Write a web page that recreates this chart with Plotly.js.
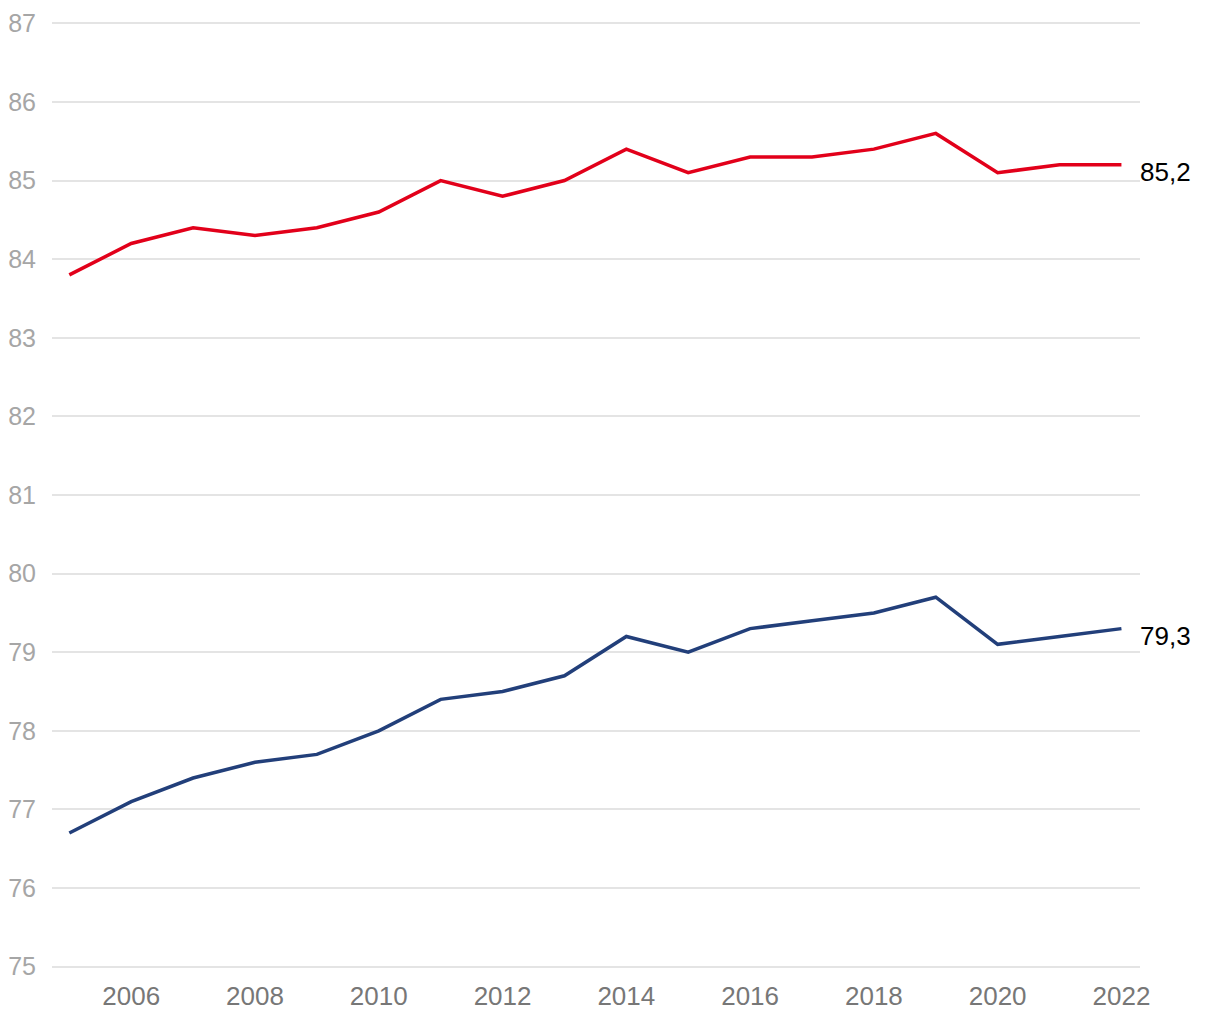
<!DOCTYPE html>
<html>
<head>
<meta charset="utf-8">
<script src="https://cdn.plot.ly/plotly-3.0.1.min.js"></script>
<style>html,body{margin:0;padding:0;background:#fff;}#chart{width:1220px;height:1020px;}</style>
</head>
<body>
<div id="chart"></div>
<script>
const years = [2005,2006,2007,2008,2009,2010,2011,2012,2013,2014,2015,2016,2017,2018,2019,2020,2021,2022];
const seriesRed = [83.8,84.2,84.4,84.3,84.4,84.6,85.0,84.8,85.0,85.4,85.1,85.3,85.3,85.4,85.6,85.1,85.2,85.2];
const seriesBlue = [76.7,77.1,77.4,77.6,77.7,78.0,78.4,78.5,78.7,79.2,79.0,79.3,79.4,79.5,79.7,79.1,79.2,79.3];
const endLabelRed = "85,2";
const endLabelBlue = "79,3";
const xTicks = [2006,2008,2010,2012,2014,2016,2018,2020,2022];
const yTicks = [75,76,77,78,79,80,81,82,83,84,85,86,87];

const traces = [
  {x: years, y: seriesRed, type: 'scatter', mode: 'lines', line: {color: '#e2001a', width: 3.5}, hoverinfo: 'skip'},
  {x: years, y: seriesBlue, type: 'scatter', mode: 'lines', line: {color: '#223f7a', width: 3.5}, hoverinfo: 'skip'}
];
const layout = {
  width: 1220, height: 1020,
  margin: {l: 52, r: 80, t: 21, b: 51},
  paper_bgcolor: '#fff', plot_bgcolor: '#fff',
  showlegend: false,
  font: {family: 'Liberation Sans, Arial, sans-serif'},
  xaxis: {
    range: [2004.72, 2022.3],
    tickvals: xTicks, ticktext: xTicks.map(String),
    showgrid: false, zeroline: false, showline: false, ticks: '',
    tickfont: {size: 26, color: '#777777'},
    ticklabelstandoff: 9
  },
  yaxis: {
    range: [74.97, 87.03],
    tickvals: yTicks, ticktext: yTicks.map(String),
    showgrid: true, gridcolor: '#e4e4e4', gridwidth: 2,
    zeroline: false, showline: false, ticks: '',
    tickfont: {size: 25, color: '#a6a6a6'},
    ticklabelstandoff: 15
  },
  annotations: [
    {x: years[years.length-1], y: seriesRed[seriesRed.length-1], text: endLabelRed, showarrow: false, xanchor: 'left', xshift: 17, yshift: -7, font: {size: 26, color: '#000'}},
    {x: years[years.length-1], y: seriesBlue[seriesBlue.length-1], text: endLabelBlue, showarrow: false, xanchor: 'left', xshift: 17, yshift: -7, font: {size: 26, color: '#000'}}
  ]
};
Plotly.newPlot('chart', traces, layout, {displayModeBar: false, staticPlot: true});
</script>
</body>
</html>
